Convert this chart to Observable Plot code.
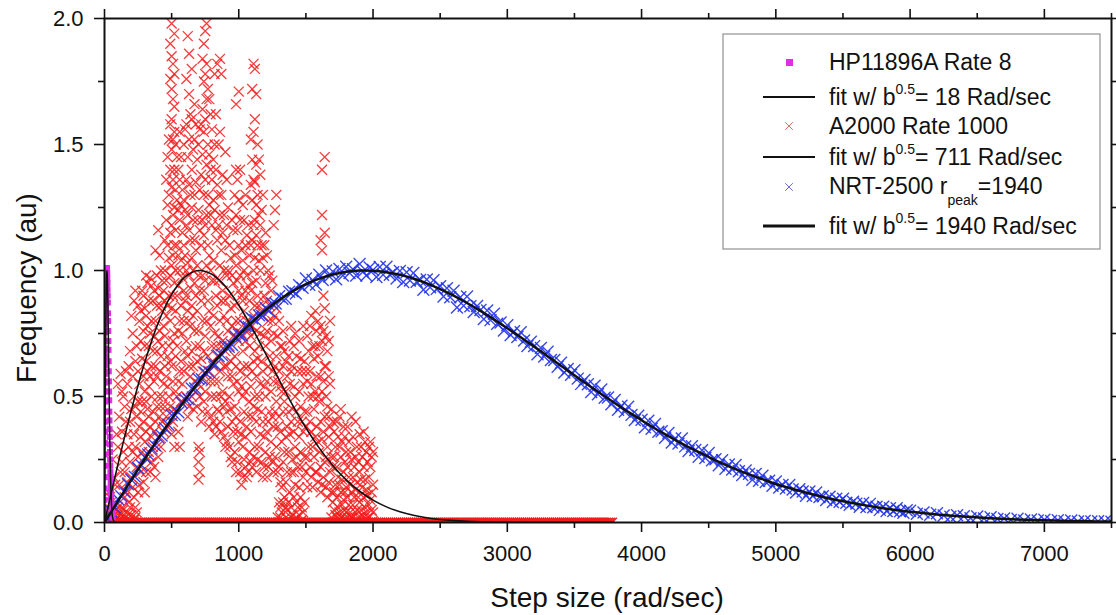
<!DOCTYPE html>
<html><head><meta charset="utf-8">
<script src="https://cdn.jsdelivr.net/npm/d3@7"></script>
<script src="https://cdn.jsdelivr.net/npm/@observablehq/plot@0.6"></script>
<style>
body{margin:0;background:#fff;}
#wrap{position:relative;width:1116px;height:615px;font-family:"Liberation Sans",Arial,sans-serif;overflow:hidden;}
#wrap svg{position:absolute;left:0;top:0;}
.lab{position:absolute;font-size:28px;color:#111;white-space:nowrap;line-height:1;}
</style></head><body><div id="wrap"></div>
<script>
// ---- tick labels / axes ----
const xMajor = [0, 1000, 2000, 3000, 4000, 5000, 6000, 7000];
const xMinor = [500, 1500, 2500, 3500, 4500, 5500, 6500, 7500];
const yMajor = [0, 0.5, 1.0, 1.5, 2.0];
const yMinor = [0.25, 0.75, 1.25, 1.75];
const xLabel = "Step size (rad/sec)";
const yLabel = "Frequency (au)";

// ---- legend ----
const seriesNames = ["HP11896A Rate 8", "A2000 Rate 1000", "NRT-2500 r"];
const fitPeaks = ["18", "711", "1940"];

// ---- HP11896A Rate 8 (magenta squares) [x, y] ----
const hpPoints = [[0,0.01],[0.5,0.045],[1,0.09],[1.5,0.135],[2,0.18],[2.5,0.225],[3,0.27],[3.5,0.315],[4,0.36],[4.5,0.4],[5,0.44],[5.5,0.48],[6,0.52],[6.5,0.555],[7,0.59],[7.5,0.625],[8,0.66],[8.5,0.69],[9,0.72],[9.5,0.755],[10,0.785],[10.5,0.81],[11,0.835],[11.5,0.86],[12,0.88],[12.5,0.9],[13,0.92],[13.5,0.935],[14,0.945],[14.5,0.96],[15,0.97],[16,0.985],[17,0.995],[18,1.01],[19,1.0],[20,0.99],[21,0.97],[22,0.95],[23,0.925],[24,0.9],[25,0.873],[26,0.83],[27,0.8],[28,0.76],[29,0.72],[30,0.685],[31,0.64],[32,0.6],[33,0.56],[34,0.52],[35,0.485],[36,0.44],[37,0.405],[38,0.37],[39,0.34],[40,0.31],[41,0.28],[42,0.25],[43,0.225],[44,0.2],[45,0.18],[46,0.16],[47,0.14],[48,0.12],[49,0.11],[50,0.1],[52,0.075],[54,0.055],[56,0.04],[58,0.03],[60,0.02]];
const hpFit = [[0,0],[2,0.18],[5,0.44],[8,0.66],[10,0.785],[12,0.88],[15,0.971],[18,1.0],[20,0.988],[25,0.873],[30,0.685],[35,0.485],[40,0.31],[45,0.181],[50,0.097],[60,0.021],[70,0.004],[80,0]];

// ---- A2000 Rate 1000 (red crosses): [x, [y values at that x]] ----
const a2000Columns = [
[20,[0.0,0.05]],[40,[0.02,0.1]],[60,[0.0,0.04,0.25]],[80,[0.01,0.15]],
[100,[0.0,0.06,0.3,0.55]],[120,[0.02,0.03,0.2,0.59]],[140,[0.0,0.05,0.28,0.5]],[160,[0.02,0.12,0.4,0.6]],
[180,[0.0,0.08,0.3,0.62]],[200,[0.03,0.18,0.45,0.82]],[220,[0.01,0.1,0.35,0.5,0.88]],[240,[0.04,0.22,0.42,0.7]],
[260,[0.15,0.38,0.55,0.8]],[280,[0.28,0.48,0.65,0.92]],[300,[0.12,0.32,0.52,0.7,0.85]],[320,[0.25,0.45,0.6,0.78,0.95]],
[340,[0.2,0.38,0.58,0.75,0.97]],[360,[0.3,0.44,0.68,0.88]],[380,[0.18,0.4,0.62,0.8,1.08]],[400,[0.26,0.5,0.72,0.93,1.16]],
[420,[0.3,0.46,0.66,0.86,1.0]],[440,[0.36,0.55,0.78,0.92]],[460,[0.42,0.58,0.82,0.96,1.2,1.36]],[480,[0.5,0.7,0.9,1.05,1.3,1.52]],
[500,[0.35,0.62,0.85,1.02,1.18,1.33,1.48,1.6,1.72,1.85,1.98]],
[520,[0.3,0.45,0.75,0.95,1.1,1.25,1.4,1.55,1.65,1.78,1.94]],
[540,[0.5,0.7,0.9,1.1,1.28,1.45]],[560,[0.3,0.6,0.8,1.0,1.2,1.36,1.55]],[580,[0.55,0.75,0.97,1.15,1.32]],
[600,[0.68,0.88,1.06,1.24,1.56]],[620,[0.42,0.66,0.84,1.03,1.22,1.45,1.93]],[640,[0.58,0.78,0.93,1.12,1.3,1.62]],
[660,[0.45,0.62,0.82,1.0,1.2,1.48]],[680,[0.52,0.7,0.9,1.08,1.35,1.58]],[700,[0.17,0.24,0.3,0.55,0.76,0.98,1.24,1.5]],
[720,[0.4,0.65,0.88,1.1,1.38,1.58]],[740,[0.48,0.68,0.92,1.14,1.3,1.55,1.75,1.9]],[760,[0.56,0.8,1.02,1.22,1.42,1.68,1.82,1.98]],
[780,[0.38,0.6,0.84,1.06,1.26,1.46,1.68]],[800,[0.5,0.7,0.96,1.18,1.36,1.56]],[820,[0.35,0.56,0.75,0.96,1.24,1.5,1.78]],
[840,[0.45,0.66,0.86,1.12,1.34,1.82]],[860,[0.4,0.6,0.8,1.02,1.22,1.55,1.84]],[880,[0.52,0.72,0.92,1.15,1.38]],
[900,[0.3,0.48,0.68,0.88,1.12,1.47]],[920,[0.38,0.58,0.76,1.0,1.25]],[940,[0.26,0.45,0.64,0.85,1.05]],
[960,[0.36,0.55,0.74,0.95,1.16]],[980,[0.2,0.42,0.62,0.8,1.02,1.22,1.4,1.66]],[1000,[0.32,0.52,0.72,0.92,1.1,1.28,1.71]],
[1020,[0.15,0.35,0.54,0.75,0.9,1.08]],[1040,[0.25,0.44,0.62,0.84,1.0,1.2]],[1060,[0.18,0.38,0.58,0.8,0.98,1.14]],
[1080,[0.28,0.48,0.7,0.88,1.06]],[1100,[0.22,0.42,0.6,0.78,0.95,1.12,1.28,1.44,1.72]],
[1120,[0.3,0.5,0.68,0.86,1.05,1.2,1.35,1.6,1.8]],[1140,[0.25,0.45,0.65,0.9,1.1,1.3,1.5]],
[1160,[0.35,0.55,0.75,1.0,1.18,1.38]],[1180,[0.18,0.4,0.6,0.82,1.05,1.3]],[1200,[0.28,0.5,0.7,0.95,1.15]],
[1220,[0.22,0.4,0.62,0.8,1.0]],[1240,[0.32,0.52,0.72,0.92]],[1260,[0.2,0.38,0.56,0.75,1.18]],[1280,[0.3,0.48,0.66,0.85,1.3]],
[1300,[0.0,0.08,0.22,0.42,0.6,0.8]],[1320,[0.04,0.14,0.32,0.52,0.7]],[1340,[0.0,0.1,0.28,0.48,0.68]],[1360,[0.05,0.2,0.38,0.58]],
[1380,[0.0,0.12,0.35,0.55,0.72]],[1400,[0.03,0.25,0.45,0.62]],[1420,[0.01,0.15,0.3,0.5,0.75]],[1440,[0.06,0.22,0.4,0.6]],
[1460,[0.0,0.1,0.28,0.46,0.65]],[1480,[0.04,0.18,0.36,0.55,0.78]],[1500,[0.2,0.38,0.6]],[1520,[0.3,0.5,0.68]],
[1540,[0.18,0.36,0.55,0.82]],[1560,[0.26,0.45,0.65]],[1580,[0.2,0.38,0.58,0.76]],[1600,[0.28,0.48,0.7]],
[1620,[0.15,0.33,0.52,0.72,1.08,1.22,1.4]],[1640,[0.24,0.42,0.62,0.85,1.15,1.45]],[1660,[0.1,0.3,0.46,0.68]],[1680,[0.2,0.38,0.55,0.8]],
[1700,[0.0,0.08,0.22,0.4]],[1720,[0.03,0.15,0.3]],[1740,[0.0,0.06,0.18,0.34]],[1760,[0.02,0.12,0.26,0.45]],
[1780,[0.0,0.09,0.2,0.38]],[1800,[0.04,0.14,0.28]],[1820,[0.0,0.07,0.18,0.32]],[1840,[0.02,0.12,0.25,0.42]],
[1860,[0.0,0.1,0.22]],[1880,[0.05,0.16,0.3]],[1900,[0.0,0.08,0.2,0.35]],[1920,[0.03,0.14,0.26]],
[1940,[0.0,0.06,0.17,0.32]],[1960,[0.02,0.11,0.24]],[1980,[0.0,0.09,0.22,0.32]],[2000,[0.04,0.15,0.28]],
[10,[0.01,0.03]],[30,[0.0,0.06,0.12]],[50,[0.02,0.08]],[70,[0.0,0.03,0.18]],[90,[0.02,0.05,0.35]],
[110,[0.01,0.04,0.15,0.42]],[130,[0.0,0.06,0.24,0.36,0.52]],[150,[0.02,0.1,0.2,0.46]],[170,[0.0,0.04,0.16,0.35,0.55]],[190,[0.01,0.06,0.24,0.4,0.68]],
[210,[0.0,0.14,0.28,0.58,0.75]],[230,[0.02,0.06,0.3,0.46,0.64,0.92]],[250,[0.12,0.26,0.48,0.6,0.86]],[270,[0.2,0.34,0.44,0.72,0.84]],[290,[0.16,0.4,0.58,0.76,0.9]],
[310,[0.2,0.36,0.48,0.64,0.82,0.98]],[330,[0.28,0.42,0.54,0.7,0.88]],[350,[0.24,0.34,0.5,0.62,0.8,0.94]],[370,[0.22,0.36,0.56,0.74,0.92]],[390,[0.3,0.46,0.58,0.68,0.86,0.98]],
[410,[0.34,0.42,0.6,0.76,0.9,1.06]],[430,[0.4,0.5,0.7,0.84,0.96]],[450,[0.46,0.62,0.74,0.88,1.0,1.12]],[470,[0.38,0.54,0.66,0.86,1.1,1.26,1.45]],[490,[0.46,0.64,0.8,0.98,1.15,1.4,1.58,1.76,1.9]],
[510,[0.4,0.56,0.72,0.9,1.06,1.22,1.36,1.52,1.68,1.82]],[530,[0.52,0.66,0.84,1.0,1.16,1.32,1.5]],[550,[0.36,0.56,0.76,0.94,1.06,1.24,1.4]],[570,[0.48,0.64,0.86,1.04,1.26,1.45]],[590,[0.6,0.8,0.92,1.1,1.28,1.5]],
[610,[0.5,0.72,0.9,1.0,1.18,1.36,1.58,1.76]],[630,[0.46,0.62,0.8,0.98,1.16,1.34,1.52,1.7,1.86]],[650,[0.5,0.68,0.86,1.05,1.25,1.4,1.6,1.8]],[670,[0.56,0.76,0.95,1.12,1.3,1.52,1.66]],[690,[0.46,0.64,0.84,1.02,1.2,1.44]],
[710,[0.2,0.28,0.5,0.7,0.92,1.16,1.32,1.56]],[730,[0.44,0.6,0.8,0.98,1.2,1.46,1.64,1.84]],[750,[0.52,0.74,0.96,1.18,1.36,1.6,1.78,1.95]],[770,[0.44,0.66,0.88,1.1,1.3,1.5,1.72]],[790,[0.42,0.56,0.78,1.0,1.22,1.4,1.62]],
[810,[0.4,0.62,0.82,1.04,1.28,1.44]],[830,[0.38,0.5,0.7,0.9,1.16,1.4,1.62]],[850,[0.44,0.56,0.74,0.96,1.18,1.3,1.5]],[870,[0.36,0.5,0.7,0.88,1.08,1.3,1.78]],[890,[0.34,0.46,0.62,0.82,1.0,1.22]],
[910,[0.32,0.44,0.62,0.8,0.98,1.18,1.36]],[930,[0.3,0.5,0.7,0.9,1.1]],[950,[0.24,0.4,0.58,0.78,0.98,1.2]],[970,[0.28,0.46,0.66,0.86,1.06,1.3]],[990,[0.24,0.36,0.56,0.76,0.96,1.16,1.36]],
[1010,[0.2,0.4,0.6,0.8,0.98,1.2,1.4]],[1030,[0.18,0.3,0.5,0.68,0.88,1.04,1.26]],[1050,[0.22,0.34,0.52,0.72,0.92,1.1,1.3]],[1070,[0.2,0.42,0.62,0.76,0.94,1.18]],[1090,[0.24,0.36,0.54,0.74,0.92,1.1,1.34,1.52]],
[1110,[0.26,0.46,0.64,0.82,1.0,1.18,1.36,1.55,1.82]],[1130,[0.2,0.4,0.58,0.76,0.96,1.14,1.26,1.42,1.7]],[1150,[0.3,0.5,0.7,0.86,1.04,1.22,1.44]],[1170,[0.24,0.44,0.64,0.84,1.1,1.24]],[1190,[0.22,0.34,0.54,0.74,0.9,1.1]],
[1210,[0.18,0.36,0.56,0.76,0.88,1.06]],[1230,[0.26,0.44,0.66,0.86,0.98]],[1250,[0.24,0.42,0.6,0.8,0.96]],[1270,[0.26,0.44,0.62,0.82,1.24]],[1290,[0.02,0.2,0.38,0.56,0.74]],
[1310,[0.02,0.06,0.16,0.36,0.54,0.7]],[1330,[0.0,0.08,0.24,0.44,0.62,0.76]],[1350,[0.02,0.06,0.16,0.34,0.52,0.64]],[1370,[0.0,0.08,0.28,0.44,0.66]],[1390,[0.02,0.06,0.2,0.4,0.6,0.78]],
[1410,[0.0,0.1,0.2,0.36,0.54,0.7]],[1430,[0.02,0.08,0.26,0.44,0.66]],[1450,[0.03,0.14,0.34,0.52,0.72]],[1470,[0.01,0.06,0.22,0.4,0.6]],[1490,[0.08,0.26,0.44,0.64]],
[1510,[0.14,0.26,0.44,0.56,0.74]],[1530,[0.22,0.4,0.6,0.78]],[1550,[0.14,0.3,0.5,0.7]],[1570,[0.2,0.34,0.52,0.7,0.84]],[1590,[0.16,0.32,0.5,0.66,0.8]],
[1610,[0.12,0.22,0.4,0.58,0.78,1.12]],[1630,[0.18,0.36,0.56,0.76,0.9]],[1650,[0.14,0.26,0.5,0.62,0.74]],[1670,[0.16,0.34,0.42,0.58,0.72]],[1690,[0.02,0.12,0.26,0.45]],
[1710,[0.0,0.05,0.12,0.26,0.36]],[1730,[0.02,0.1,0.22,0.4]],[1750,[0.0,0.04,0.15,0.3,0.42]],[1770,[0.02,0.07,0.17,0.32]],[1790,[0.01,0.05,0.12,0.24,0.34]],
[1810,[0.02,0.1,0.22,0.38]],[1830,[0.0,0.04,0.15,0.28]],[1850,[0.02,0.07,0.18,0.34]],[1870,[0.0,0.04,0.13,0.26,0.4]],[1890,[0.02,0.1,0.24]],
[1910,[0.0,0.05,0.17,0.3]],[1930,[0.02,0.1,0.22,0.36]],[1950,[0.0,0.04,0.13,0.28]],[1970,[0.02,0.07,0.18,0.3]],[1990,[0.0,0.05,0.12,0.26]]
];
// A2000 points sitting on zero (x positions)
const a2000ZeroX = [0,15,30,45,60,75,90,105,120,135,150,165,180,195,210,225,240,255,270,285,300,315,330,345,360,375,390,405,420,435,450,465,480,495,510,525,540,555,570,585,600,615,630,645,660,675,690,705,720,735,750,765,780,795,810,825,840,855,870,885,900,915,930,945,960,975,990,1005,1020,1035,1050,1065,1080,1095,1110,1125,1140,1155,1170,1185,1200,1215,1230,1245,1260,1275,1290,1305,1320,1335,1350,1365,1380,1395,1410,1425,1440,1455,1470,1485,1500,1515,1530,1545,1560,1575,1590,1605,1620,1635,1650,1665,1680,1695,1710,1725,1740,1755,1770,1785,1800,1815,1830,1845,1860,1875,1890,1905,1920,1935,1950,1965,1980,1995,2010,2025,2040,2055,2070,2085,2100,2115,2130,2145,2160,2175,2190,2205,2220,2235,2250,2265,2280,2295,2310,2325,2340,2355,2370,2385,2400,2415,2430,2445,2460,2475,2490,2505,2520,2535,2550,2565,2580,2595,2610,2625,2640,2655,2670,2685,2700,2715,2730,2745,2760,2775,2790,2805,2820,2835,2850,2865,2880,2895,2910,2925,2940,2955,2970,2985,3000,3015,3030,3045,3060,3075,3090,3105,3120,3135,3150,3165,3180,3195,3210,3225,3240,3255,3270,3285,3300,3315,3330,3345,3360,3375,3390,3405,3420,3435,3450,3465,3480,3495,3510,3525,3540,3555,3570,3585,3600,3615,3630,3645,3660,3675,3690,3705,3720,3735,3750,3765,3780];
const a2000Fit = [[0,0],[100,0.23],[200,0.446],[300,0.636],[400,0.792],[500,0.905],[600,0.975],[700,1.0],[800,0.985],[900,0.937],[1000,0.862],[1100,0.771],[1200,0.67],[1300,0.567],[1400,0.467],[1500,0.376],[1600,0.295],[1700,0.226],[1800,0.169],[1900,0.124],[2000,0.089],[2100,0.062],[2200,0.043],[2300,0.029],[2400,0.019],[2500,0.012],[2600,0.0075],[2700,0.0046],[2800,0.0027],[2900,0.0015],[3000,0.0008],[3200,0.0002],[3500,0],[3800,0]];

// ---- NRT-2500 (blue crosses) [x, y] ----
const nrtPoints = [
[0,0.005],[25,0.014],[50,0.044],[75,0.061],[100,0.093],[125,0.104],[150,0.121],[175,0.152],[200,0.17],[225,0.182],[250,0.216],[275,0.227],[300,0.259],[325,0.27],[350,0.294],[375,0.306],[400,0.338],[425,0.345],[450,0.374],[475,0.388],
[500,0.426],[525,0.427],[550,0.437],[575,0.475],[600,0.488],[625,0.489],[650,0.532],[675,0.532],[700,0.57],[725,0.569],[750,0.594],[775,0.598],[800,0.634],[825,0.626],[850,0.661],[875,0.665],[900,0.699],[925,0.697],[950,0.704],[975,0.738],
[1000,0.746],[1025,0.742],[1050,0.78],[1075,0.775],[1100,0.81],[1125,0.803],[1150,0.822],[1175,0.82],[1200,0.851],[1225,0.839],[1250,0.869],[1275,0.869],[1300,0.898],[1325,0.888],[1350,0.888],[1375,0.916],[1400,0.918],[1425,0.909],[1450,0.942],[1475,0.931],
[1500,0.968],[1525,0.943],[1550,0.962],[1575,0.944],[1600,0.983],[1625,0.962],[1650,1.0],[1675,0.976],[1700,0.996],[1725,0.965],[1750,1.006],[1775,0.98],[1800,1.015],[1825,0.99],[1850,1.005],[1875,0.98],[1900,1.026],[1925,0.995],[1950,0.98],[1975,1.012],
[2000,1.002],[2025,0.974],[2050,1.014],[2075,0.983],[2100,1.015],[2125,0.983],[2150,0.993],[2175,0.968],[2200,0.998],[2225,0.954],[2250,0.993],[2275,0.96],[2300,0.99],[2325,0.955],[2350,0.962],[2375,0.924],[2400,0.964],[2425,0.933],[2450,0.961],[2475,0.927],
[2500,0.938],[2525,0.897],[2550,0.93],[2575,0.894],[2600,0.92],[2625,0.853],[2650,0.894],[2675,0.86],[2700,0.897],[2725,0.858],[2750,0.835],[2775,0.859],[2800,0.843],[2825,0.807],[2850,0.841],[2875,0.803],[2900,0.828],[2925,0.789],[2950,0.794],[2975,0.762],
[3000,0.783],[3025,0.744],[3050,0.759],[3075,0.736],[3100,0.755],[3125,0.722],[3150,0.7],[3175,0.717],[3200,0.7],[3225,0.668],[3250,0.693],[3275,0.659],[3300,0.678],[3325,0.645],[3350,0.645],[3375,0.618],[3400,0.634],[3425,0.595],[3450,0.609],[3475,0.586],
[3500,0.604],[3525,0.571],[3550,0.55],[3575,0.566],[3600,0.549],[3625,0.518],[3650,0.543],[3675,0.509],[3700,0.528],[3725,0.495],[3750,0.496],[3775,0.469],[3800,0.486],[3825,0.447],[3850,0.463],[3875,0.44],[3900,0.459],[3925,0.427],[3950,0.407],[3975,0.424],
[4000,0.408],[4025,0.378],[4050,0.404],[4075,0.372],[4100,0.391],[4125,0.36],[4150,0.362],[4175,0.336],[4200,0.355],[4225,0.317],[4250,0.334],[4275,0.313],[4300,0.333],[4325,0.302],[4350,0.284],[4375,0.303],[4400,0.288],[4425,0.261],[4450,0.287],[4475,0.256],
[4500,0.276],[4525,0.247],[4550,0.251],[4575,0.227],[4600,0.247],[4625,0.213],[4650,0.23],[4675,0.21],[4700,0.228],[4725,0.203],[4750,0.188],[4775,0.206],[4800,0.193],[4825,0.17],[4850,0.193],[4875,0.166],[4900,0.186],[4925,0.161],[4950,0.166],[4975,0.146],
[5000,0.163],[5025,0.139],[5050,0.149],[5075,0.135],[5100,0.149],[5125,0.131],[5150,0.119],[5175,0.132],[5200,0.123],[5225,0.106],[5250,0.123],[5275,0.105],[5300,0.119],[5325,0.101],[5350,0.104],[5375,0.089],[5400,0.102],[5425,0.081],[5450,0.094],[5475,0.082],
[5500,0.094],[5525,0.078],[5550,0.07],[5575,0.082],[5600,0.075],[5625,0.062],[5650,0.077],[5675,0.061],[5700,0.074],[5725,0.06],[5750,0.063],[5775,0.05],[5800,0.063],[5825,0.046],[5850,0.057],[5875,0.046],[5900,0.057],[5925,0.045],[5950,0.039],[5975,0.049],
[6000,0.047],[6050,0.035],[6100,0.04],[6150,0.031],[6200,0.037],[6250,0.028],[6300,0.023],[6350,0.029],[6400,0.025],[6450,0.017],[6500,0.024],[6550,0.016],[6600,0.021],[6650,0.014],[6700,0.016],[6750,0.01],[6800,0.015],[6850,0.008],[6900,0.012],[6950,0.008],
[7000,0.011],[7050,0.006],[7100,0.009],[7150,0.005],[7200,0.008],[7250,0.004],[7300,0.006],[7350,0.004],[7400,0.005],[7450,0.004],[7500,0.003]
];
const nrtFit = [[0,0],[100,0.085],[200,0.169],[300,0.252],[400,0.333],[500,0.411],[600,0.486],[700,0.557],[800,0.625],[900,0.687],[1000,0.744],[1100,0.796],[1200,0.842],[1300,0.883],[1400,0.917],[1500,0.946],[1600,0.968],[1700,0.984],[1800,0.995],[1900,1.0],[2000,0.999],[2100,0.993],[2200,0.983],[2300,0.968],[2400,0.949],[2500,0.926],[2600,0.9],[2700,0.871],[2800,0.84],[2900,0.806],[3000,0.771],[3100,0.735],[3200,0.698],[3300,0.66],[3400,0.622],[3500,0.584],[3600,0.547],[3700,0.51],[3800,0.474],[3900,0.439],[4000,0.406],[4100,0.373],[4200,0.343],[4300,0.313],[4400,0.286],[4500,0.26],[4600,0.235],[4700,0.212],[4800,0.191],[4900,0.172],[5000,0.153],[5100,0.137],[5200,0.122],[5300,0.108],[5400,0.095],[5500,0.084],[5600,0.074],[5700,0.065],[5800,0.0565],[5900,0.049],[6000,0.043],[6200,0.032],[6400,0.0237],[6600,0.0172],[6800,0.0123],[7000,0.0089],[7200,0.0062],[7400,0.0043],[7500,0.0036]];

// ---- build tables ----
const redPts = a2000Columns.flatMap(([x, ys]) => ys.map(y => ({x, y})));
const redZero = a2000ZeroX.map(x => ({x, y: 0}));
const px = d => d[0], py = d => d[1];
const FONT = '"Liberation Sans", Arial, sans-serif';
const RED = "#f41a1a", BLUE = "#2234ea", MAG = "#e02ee6", INK = "#111";

const chart = Plot.plot({
  width: 1116, height: 615,
  marginLeft: 104, marginRight: 5, marginTop: 18, marginBottom: 93,
  x: {domain: [0, 7500]},
  y: {domain: [0, 2]},
  style: {fontFamily: FONT, background: "transparent", color: INK, overflow: "visible"},
  marks: [
    Plot.dot(redPts, {x: "x", y: "y", symbol: "times", r: 4.6, stroke: RED, strokeWidth: 1.3, strokeOpacity: 0.85, clip: true}),
    Plot.dot(redZero, {x: "x", y: "y", symbol: "times", r: 4.4, stroke: RED, strokeWidth: 1.6, clip: true}),
    Plot.dot(nrtPoints, {x: px, y: py, symbol: "times", r: 5.5, stroke: BLUE, strokeWidth: 1.4, strokeOpacity: 0.9, clip: true}),
    Plot.dot(hpPoints, {x: px, y: py, symbol: "square", r: 3.4, fill: MAG, clip: true}),
    Plot.line(hpFit, {x: px, y: py, stroke: INK, strokeWidth: 1.5, curve: "catmull-rom", clip: true}),
    Plot.line(a2000Fit, {x: px, y: py, stroke: INK, strokeWidth: 1.6, curve: "catmull-rom", clip: true}),
    Plot.line(nrtFit, {x: px, y: py, stroke: INK, strokeWidth: 2.5, curve: "catmull-rom", clip: true}),
    Plot.frame({stroke: INK, strokeWidth: 2}),
    Plot.axisX({ticks: xMajor, tickSize: 10, tickPadding: 13, tickFormat: d => String(d), fontSize: 22, label: null, stroke: INK, strokeWidth: 1.6, fill: INK}),
    Plot.axisX({ticks: xMinor, tickSize: 6, fill: "none", label: null, stroke: INK, strokeWidth: 1.6}),
    Plot.axisX({anchor: "top", ticks: xMajor, tickSize: 10, fill: "none", label: null, stroke: INK, strokeWidth: 1.6}),
    Plot.axisX({anchor: "top", ticks: xMinor, tickSize: 6, fill: "none", label: null, stroke: INK, strokeWidth: 1.6}),
    Plot.axisY({ticks: yMajor, tickSize: 10, tickPadding: 11, tickFormat: d => d.toFixed(1), fontSize: 22, label: null, stroke: INK, strokeWidth: 1.6, fill: INK}),
    Plot.axisY({ticks: yMinor, tickSize: 6, fill: "none", label: null, stroke: INK, strokeWidth: 1.6}),
    Plot.axisY({anchor: "right", ticks: yMajor, tickSize: 10, fill: "none", label: null, stroke: INK, strokeWidth: 1.6}),
    Plot.axisY({anchor: "right", ticks: yMinor, tickSize: 6, fill: "none", label: null, stroke: INK, strokeWidth: 1.6})
  ]
});
const wrap = document.getElementById("wrap");
wrap.appendChild(chart);

// axis titles
const xl = document.createElement("div");
xl.className = "lab"; xl.textContent = xLabel;
xl.style.left = "607px"; xl.style.top = "598px"; xl.style.transform = "translate(-50%,-50%)";
wrap.appendChild(xl);
const yl = document.createElement("div");
yl.className = "lab"; yl.textContent = yLabel;
yl.style.left = "27px"; yl.style.top = "288px"; yl.style.transform = "translate(-50%,-50%) rotate(-90deg)";
wrap.appendChild(yl);

// legend overlay
const leg = d3.create("svg").attr("width", 1116).attr("height", 615)
  .style("font-family", FONT).style("pointer-events", "none");
leg.append("rect").attr("x", 723).attr("y", 34).attr("width", 377).attr("height", 215)
  .attr("fill", "white").attr("stroke", "#9a9a9a").attr("stroke-width", 1.3);
const TX = 829, FS = 23;
function cross(cx, cy, color) {
  const s = 3.8;
  leg.append("path").attr("d", `M${cx-s},${cy-s}L${cx+s},${cy+s}M${cx-s},${cy+s}L${cx+s},${cy-s}`)
    .attr("stroke", color).attr("stroke-width", 1).attr("fill", "none");
}
function fitLine(cy, w) {
  leg.append("line").attr("x1", 763).attr("x2", 815).attr("y1", cy).attr("y2", cy)
    .attr("stroke", INK).attr("stroke-width", w);
}
function fitText(cy, val) {
  const t = leg.append("text").attr("x", TX).attr("y", cy + 8).attr("font-size", FS).attr("fill", INK);
  t.append("tspan").text("fit w/ b");
  t.append("tspan").attr("font-size", 14).attr("dy", -11).text("0.5");
  t.append("tspan").attr("dy", 11).text(`= ${val} Rad/sec`);
}
// row 1
leg.append("rect").attr("x", 786).attr("y", 59).attr("width", 7).attr("height", 7).attr("fill", MAG);
leg.append("text").attr("x", TX).attr("y", 70).attr("font-size", FS).attr("fill", INK).text(seriesNames[0]);
// row 2
fitLine(97, 2); fitText(97, fitPeaks[0]);
// row 3
cross(789, 126, "#e06868");
leg.append("text").attr("x", TX).attr("y", 134).attr("font-size", FS).attr("fill", INK).text(seriesNames[1]);
// row 4
fitLine(157, 2); fitText(157, fitPeaks[1]);
// row 5
cross(789, 187, "#6a6ad6");
{
  const t = leg.append("text").attr("x", TX).attr("y", 194).attr("font-size", FS).attr("fill", INK);
  t.append("tspan").text(seriesNames[2]);
  t.append("tspan").attr("font-size", 14).attr("dy", 11).text("peak");
  t.append("tspan").attr("dy", -11).text("=" + fitPeaks[2]);
}
// row 6
fitLine(226, 3); fitText(226, fitPeaks[2]);
wrap.appendChild(leg.node());
</script></body></html>
